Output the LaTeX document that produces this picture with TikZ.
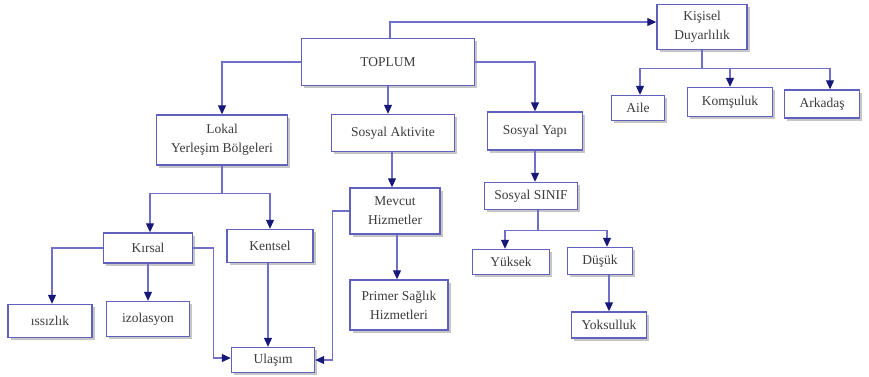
\documentclass[tikz,border=0pt]{standalone}
\usepackage{fontspec}
\setmainfont{Liberation Serif}
\usetikzlibrary{arrows.meta,shadows,calc}
\definecolor{boxc}{RGB}{96,96,190}
\definecolor{linec}{RGB}{112,112,200}
\definecolor{tipc}{RGB}{24,24,120}
\definecolor{txtc}{RGB}{60,60,60}
\begin{document}
\begin{tikzpicture}[x=1pt,y=-1pt,
  box/.style={draw=boxc,line width=1.4pt,fill=white,inner sep=1pt,align=center,
    text=txtc,font=\fontsize{13.5}{19}\selectfont,
    drop shadow={shadow xshift=2.5pt,shadow yshift=-2.5pt,fill=gray!45,opacity=1}},
  conn/.style={draw=linec,line width=1.1pt},
  arr/.style={conn,-{Triangle[length=9pt,width=8pt,color=tipc]}}]
\useasboundingbox (0,0) rectangle (869,376);
\node[box,minimum width=173pt,minimum height=47pt] (top) at (388,62) {TOPLUM};
\node[box,minimum width=90pt,minimum height=45pt] (kis) at (702,27) {Kişisel\\Duyarlılık};
\node[box,minimum width=53pt,minimum height=25pt] (aile) at (638,108) {Aile};
\node[box,minimum width=85pt,minimum height=29pt] (kom) at (730,102) {Komşuluk};
\node[box,minimum width=75pt,minimum height=28pt] (ark) at (822,104) {Arkadaş};
\node[box,minimum width=131pt,minimum height=50pt] (lokal) at (222,140) {Lokal\\Yerleşim Bölgeleri};
\node[box,minimum width=123pt,minimum height=37pt] (akt) at (393,133) {Sosyal Aktivite};
\node[box,minimum width=95pt,minimum height=38pt] (yapi) at (535,131) {Sosyal Yapı};
\node[box,minimum width=90pt,minimum height=46pt] (mev) at (395,211) {Mevcut\\Hizmetler};
\node[box,minimum width=93pt,minimum height=27pt] (sinif) at (531,196) {Sosyal SINIF};
\node[box,minimum width=89pt,minimum height=30pt] (kirsal) at (148,248) {Kırsal};
\node[box,minimum width=86pt,minimum height=33pt] (kent) at (270,246) {Kentsel};
\node[box,minimum width=98pt,minimum height=50pt] (primer) at (399,305) {Primer Sağlık\\Hizmetleri};
\node[box,minimum width=77pt,minimum height=25pt] (yuk) at (511,262) {Yüksek};
\node[box,minimum width=65pt,minimum height=27pt] (dus) at (600,261) {Düşük};
\node[box,minimum width=75pt,minimum height=26pt] (yok) at (609,325) {Yoksulluk};
\node[box,minimum width=84pt,minimum height=33pt] (iss) at (50,321) {ıssızlık};
\node[box,minimum width=83pt,minimum height=35pt] (izo) at (148,319) {izolasyon};
\node[box,minimum width=83pt,minimum height=25pt] (ula) at (273,360) {Ulaşım};
% connectors
\draw[arr] ($(top.north)+(2,0)$) |- ($(kis.west)+(0,-5)$);
\draw[arr] (top.west) -| (lokal.north);
\draw[arr] (top.south) -- (top.south |- akt.north);
\draw[arr] (top.east) -| (yapi.north);
\draw[arr] ($(akt.south)+(-1,0)$) -- ($(akt.south |- mev.north)+(-1,0)$);
\draw[arr] ($(mev.south)+(2,0)$) -- ($(mev.south |- primer.north)+(2,0)$);
\draw[arr] (mev.west) -- ++(-17,0) |- (ula.east);
\draw[conn] (lokal.south) -- ++(0,28) coordinate (lk);
\draw[arr] (lk) -| ($(kirsal.north)+(2,0)$);
\draw[arr] (lk) -| (kent.north);
\draw[arr] ($(kent.south)+(-2,0)$) -- ($(kent.south |- ula.north)+(-2,0)$);
\draw[arr] (kirsal.east) -- ++(20,0) |- ($(ula.west)+(0,-2)$);
\draw[arr] (kirsal.west) -| ($(iss.north)+(2,0)$);
\draw[arr] (kirsal.south) -- (kirsal.south |- izo.north);
\draw[arr] (yapi.south) -- (yapi.south |- sinif.north);
\draw[conn] ($(sinif.south)+(7,0)$) -- ++(0,20) coordinate (sk);
\draw[arr] (sk) -| ($(yuk.north)+(-6,0)$);
\draw[arr] (sk) -| ($(dus.north)+(7,0)$);
\draw[arr] (yok.north |- dus.south) -- (yok.north);
\draw[conn] (kis.south) -- ++(0,18) coordinate (kk);
\draw[arr] (kk) -| ($(aile.north)+(2,0)$);
\draw[arr] (kk) -| (kom.north);
\draw[arr] (kk) -| ($(ark.north)+(8,0)$);
\end{tikzpicture}
\end{document}
